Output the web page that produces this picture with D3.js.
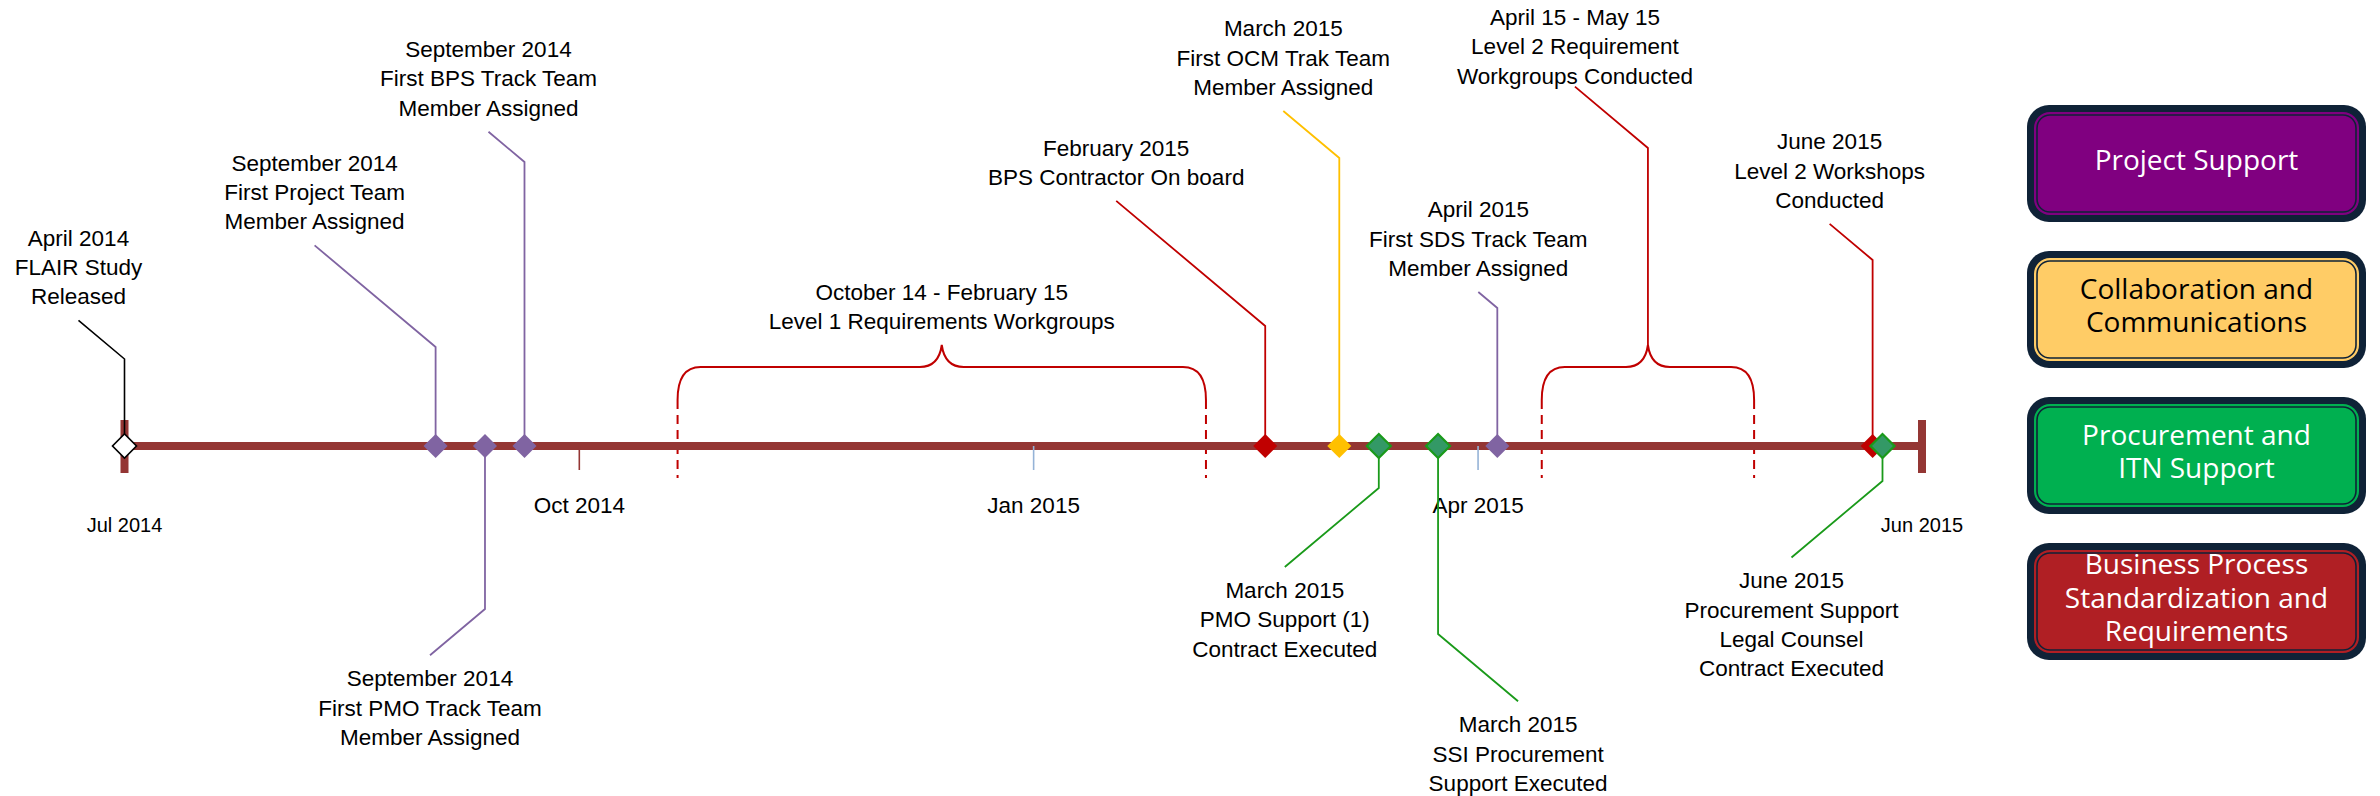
<!DOCTYPE html>
<html>
<head>
<meta charset="utf-8">
<script src="https://cdn.jsdelivr.net/npm/d3@7"></script>
<style>
	body { margin: 0; background: #fff; }
	svg { display: block; }
</style>
</head>
<body>
<div id="chart"></div>
<script>
const w = 2380;
const h = 796;

// timeline range and axis labels
const timelineStart = '2014-07-01';
const timelineEnd = '2015-06-30';
const tickDates = ['2014-10-01', '2015-01-01', '2015-04-01'];
const tickLabels = ['Oct 2014', 'Jan 2015', 'Apr 2015'];
const endLabels = ['Jul 2014', 'Jun 2015'];

// tracks (legend)
const tracks = ['project', 'collab', 'procure', 'business'];
const trackLines = [
	['Project Support'],
	['Collaboration and', 'Communications'],
	['Procurement and', 'ITN Support'],
	['Business Process', 'Standardization and', 'Requirements']
];

// milestones
const milestoneDates = [
	'2014-04-01', '2014-09-02', '2014-09-12', '2014-09-20', '2015-02-17', '2015-03-04',
	'2015-03-12', '2015-03-24', '2015-04-05', '2015-06-20', '2015-06-22'
];
const milestoneTracks = [
	'none', 'project', 'project', 'project', 'business', 'collab',
	'procure', 'procure', 'project', 'business', 'procure'
];
const milestoneText = [
	['April 2014', 'FLAIR Study', 'Released'],
	['September 2014', 'First Project Team', 'Member Assigned'],
	['September 2014', 'First PMO Track Team', 'Member Assigned'],
	['September 2014', 'First BPS Track Team', 'Member Assigned'],
	['February 2015', 'BPS Contractor On board'],
	['March 2015', 'First OCM Trak Team', 'Member Assigned'],
	['March 2015', 'PMO Support (1)', 'Contract Executed'],
	['March 2015', 'SSI Procurement', 'Support Executed'],
	['April 2015', 'First SDS Track Team', 'Member Assigned'],
	['June 2015', 'Level 2 Workshops', 'Conducted'],
	['June 2015', 'Procurement Support', 'Legal Counsel', 'Contract Executed']
];

// spans (braces)
const spanStarts = ['2014-10-21', '2015-04-14'];
const spanEnds = ['2015-02-05', '2015-05-27'];
const spanText = [
	['October 14 - February 15', 'Level 1 Requirements Workgroups'],
	['April 15 - May 15', 'Level 2 Requirement', 'Workgroups Conducted']
];

// callout layout: side (-1 up, 1 down), vertical leg, horizontal run of slanted leg
const calloutSide = [-1, -1, 1, -1, -1, -1, 1, 1, -1, -1, 1];
const calloutRise = [87, 99, 163, 284, 120, 288, 42, 188, 138, 186, 35];
const calloutReach = [-46, -121, -55, -36, -149, -56, -94, 80, -19, -43, -91];
const spanRise = [0, 197];
const spanReach = [0, -73];
const spanGap = [16, 3];
const slope = 0.84;

const axisY = 446;
const axisColor = '#943634';
const labelFont = "'Liberation Sans', Arial, sans-serif";
const lineH = 29.3;

const markerFill = d3.scaleOrdinal()
	.domain(['none', ...tracks])
	.range(['#ffffff', '#8064a2', '#ffc000', '#339966', '#c00000']);
const markerStroke = d3.scaleOrdinal()
	.domain(['none', ...tracks])
	.range(['#000000', '#8064a2', '#ffc000', '#1a9a1a', '#c00000']);
const boxFill = d3.scaleOrdinal().domain(tracks).range(['#800080', '#ffcc66', '#00b050', '#b01f24']);
const boxText = d3.scaleOrdinal().domain(tracks).range(['#ffffff', '#000000', '#ffffff', '#ffffff']);

const parse = d3.timeParse('%Y-%m-%d');

const x = d3.scaleTime()
	.domain([parse(timelineStart), parse(timelineEnd)])
	.range([124.5, 1922])
	.clamp(true);

const svg = d3.select('#chart')
	.append('svg')
	.attr('width', w)
	.attr('height', h)
	.style('background-color', '#fff');

function addLabel(g, lines, cx, y, side) {
	// side -1: y is the baseline of the last line, 1: y is the baseline of the first line
	const t = g.append('text')
		.attr('text-anchor', 'middle')
		.attr('font-family', labelFont)
		.attr('font-size', 22.5)
		.attr('fill', '#000');
	const y0 = side < 0 ? y - (lines.length - 1) * lineH : y;
	lines.forEach((line, i) => {
		t.append('tspan').attr('x', cx).attr('y', y0 + i * lineH).text(line);
	});
}

// braces
const spans = spanStarts.map((s, i) => ({
	x0: x(parse(s)),
	x1: x(parse(spanEnds[i])),
	text: spanText[i],
	rise: spanRise[i],
	reach: spanReach[i],
	gap: spanGap[i]
}));

const braceBase = 400, braceBar = 367, bracePeak = 345;
const gBrace = svg.append('g');
spans.forEach(s => {
	const m = (s.x0 + s.x1) / 2;
	const p = d3.path();
	p.moveTo(s.x0, braceBase);
	p.quadraticCurveTo(s.x0, braceBar, s.x0 + 23, braceBar);
	p.lineTo(m - 22, braceBar);
	p.quadraticCurveTo(m - 3, braceBar, m, bracePeak);
	p.quadraticCurveTo(m + 3, braceBar, m + 22, braceBar);
	p.lineTo(s.x1 - 23, braceBar);
	p.quadraticCurveTo(s.x1, braceBar, s.x1, braceBase);
	gBrace.append('path')
		.attr('d', p.toString())
		.attr('fill', 'none')
		.attr('stroke', '#c00000')
		.attr('stroke-width', 2);
	[s.x0, s.x1].forEach(xx => {
		gBrace.append('line')
			.attr('x1', xx).attr('x2', xx)
			.attr('y1', braceBase).attr('y2', 478)
			.attr('stroke', '#c00000')
			.attr('stroke-width', 2)
			.attr('stroke-dasharray', '9,6');
	});
	let endX = m, endY = bracePeak;
	if (s.rise > 0) {
		const top = bracePeak - s.rise;
		endX = m + s.reach;
		endY = top - Math.abs(s.reach) * slope;
		gBrace.append('path')
			.attr('d', `M${m},${bracePeak}L${m},${top}L${endX},${endY}`)
			.attr('fill', 'none')
			.attr('stroke', '#c00000')
			.attr('stroke-width', 1.8);
	}
	addLabel(gBrace, s.text, endX, endY - s.gap, -1);
});

// main bar
const xs = x(parse(timelineStart)), xe = x(parse(timelineEnd));
svg.append('line')
	.attr('x1', xs).attr('x2', xe)
	.attr('y1', axisY).attr('y2', axisY)
	.attr('stroke', axisColor)
	.attr('stroke-width', 8);
svg.selectAll('rect.cap')
	.data([xs, xe])
	.enter()
	.append('rect')
	.attr('class', 'cap')
	.attr('x', d => d - 4)
	.attr('y', 420)
	.attr('width', 8)
	.attr('height', 53)
	.attr('fill', axisColor);

// ticks
const axis = d3.axisBottom(x)
	.tickValues(tickDates.map(parse))
	.tickFormat((d, i) => tickLabels[i])
	.tickSize(24)
	.tickPadding(27);
const gAxis = svg.append('g')
	.attr('transform', `translate(0,${axisY})`)
	.call(axis)
	.attr('font-family', labelFont)
	.attr('font-size', 22.5);
gAxis.select('.domain').remove();
gAxis.selectAll('.tick line')
	.attr('stroke', (d, i) => (i === 0 ? axisColor : '#95b3d7'))
	.attr('stroke-width', 1.6);
gAxis.selectAll('.tick text').attr('fill', '#000');

svg.selectAll('text.end-label')
	.data(endLabels)
	.enter()
	.append('text')
	.attr('class', 'end-label')
	.attr('x', (d, i) => (i === 0 ? xs : xe))
	.attr('y', 532)
	.attr('text-anchor', 'middle')
	.attr('font-family', labelFont)
	.attr('font-size', 20)
	.text(d => d);

// milestones
const milestones = milestoneDates.map((d, i) => ({
	x: x(parse(d)),
	track: milestoneTracks[i],
	text: milestoneText[i],
	side: calloutSide[i],
	rise: calloutRise[i],
	reach: calloutReach[i]
}));

const gCall = svg.append('g');
milestones.forEach(m => {
	const elbowY = axisY + m.side * m.rise;
	const endX = m.x + m.reach;
	const endY = elbowY + m.side * Math.abs(m.reach) * slope;
	gCall.append('path')
		.attr('d', `M${m.x},${axisY}L${m.x},${elbowY}L${endX},${endY}`)
		.attr('fill', 'none')
		.attr('stroke', m.track === 'procure' ? '#1a9a1a' : markerStroke(m.track))
		.attr('stroke-width', m.track === 'none' ? 1.6 : 1.8);
	addLabel(gCall, m.text, endX, m.side < 0 ? endY - 16 : endY + 31, m.side);
});

svg.selectAll('path.marker')
	.data(milestones)
	.enter()
	.append('path')
	.attr('class', 'marker')
	.attr('d', d3.symbol().type(d3.symbolSquare).size(289))
	.attr('transform', d => `translate(${d.x},${axisY}) rotate(45)`)
	.attr('fill', d => markerFill(d.track))
	.attr('stroke', d => markerStroke(d.track))
	.attr('stroke-width', d => (d.track === 'procure' ? 2.2 : d.track === 'none' ? 1.6 : 0));

// legend
const boxX = 2027, boxW = 339, boxH = 117, boxTop = 105, boxPitch = 146;
const navy = '#0f2237';
const legend = svg.append('g').attr('id', 'legend');
const items = legend.selectAll('g')
	.data(tracks)
	.enter()
	.append('g')
	.attr('transform', (d, i) => `translate(${boxX},${boxTop + i * boxPitch})`);

items.append('rect')
	.attr('width', boxW).attr('height', boxH)
	.attr('rx', 22)
	.attr('fill', navy);
items.append('rect')
	.attr('x', 7).attr('y', 7)
	.attr('width', boxW - 14).attr('height', boxH - 14)
	.attr('rx', 16)
	.attr('fill', d => boxFill(d));
items.append('rect')
	.attr('x', 10).attr('y', 10)
	.attr('width', boxW - 20).attr('height', boxH - 20)
	.attr('rx', 13)
	.attr('fill', 'none')
	.attr('stroke', navy)
	.attr('stroke-width', 1.6);

items.each(function (d, i) {
	const lines = trackLines[i];
	const t = d3.select(this)
		.append('text')
		.attr('text-anchor', 'middle')
		.attr('font-family', "'Open Sans', sans-serif")
		.attr('font-size', 28)
		.attr('fill', boxText(d));
	const y0 = boxH / 2 - ((lines.length - 1) * 33.5) / 2 + 6;
	lines.forEach((line, j) => {
		t.append('tspan').attr('x', boxW / 2).attr('y', y0 + j * 33.5).text(line);
	});
});
</script>
</body>
</html>
